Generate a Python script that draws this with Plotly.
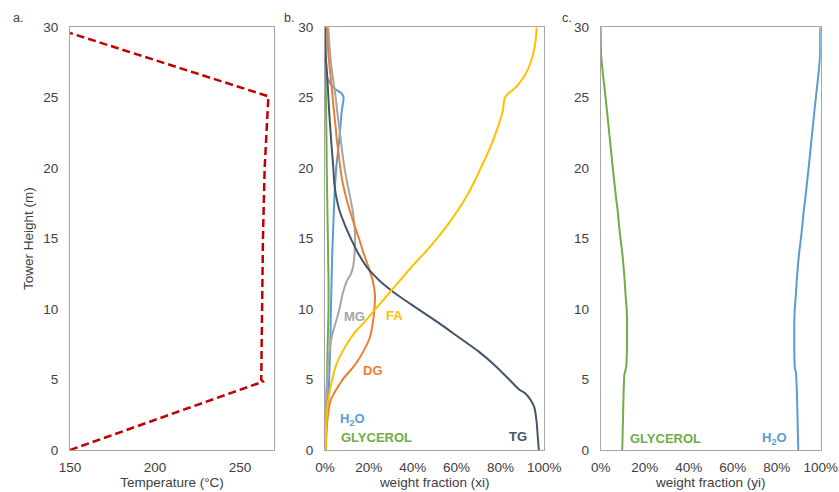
import plotly.graph_objects as go

W, H = 839, 492

# ---------------- Panel a: temperature profile ----------------
temp_height = [0, 4.85, 5, 10, 15, 20, 25.1, 29.6]
temperature = [150, 263.5, 262.5, 263, 263.5, 264.5, 266.7, 150]

# ---------------- Panel b: liquid weight fractions (xi, %) ----------------
tg_h = [0, 1, 2, 3, 3.5, 4, 4.3, 5, 6, 7, 8, 9, 10, 11, 11.5, 12, 12.5, 13, 14, 15, 16, 17, 18, 19, 20, 22, 24, 26, 27, 28, 30]
tg_x = [97.5, 97, 96.5, 95.5, 94, 91.5, 88.5, 84, 77.5, 70, 61, 52, 42.5, 33, 28.8, 25, 21.8, 19, 15, 11.8, 9, 6.6, 5.1, 4.2, 3.8, 2.8, 1.9, 1.2, 0.8, 0.3, 0]

fa_h = [0, 1, 2, 3, 4, 5, 6, 7, 8, 8.5, 9, 10, 11, 12, 13, 14, 15, 16, 17, 18, 19, 20, 21, 22, 23, 24, 25, 25.3, 25.6, 26, 27, 28, 29, 30]
fa_x = [0.2, 0.4, 0.6, 1.1, 2.0, 3.3, 5.0, 8.0, 12.0, 14.4, 17.5, 23.0, 28.5, 34.0, 39.5, 45.5, 51.0, 56.0, 60.5, 64.5, 68.0, 71.0, 74.0, 76.7, 79.0, 81.0, 82.0, 83.5, 86.0, 88.5, 92.5, 94.7, 96.0, 96.5]

dg_h = [0, 1, 2, 3, 3.5, 4, 4.7, 5, 6, 7, 8, 9, 10, 11, 12, 13, 14, 15, 16, 17, 18, 19, 20, 21, 22, 23, 24, 25, 26, 27, 28, 29, 30]
dg_x = [0.4, 0.6, 1.0, 1.8, 2.5, 4.0, 6.8, 8.0, 13.5, 17.5, 20.5, 21.8, 22.5, 22.8, 21.8, 19.8, 17.5, 15.5, 13.3, 11.3, 9.5, 8.0, 7.0, 6.2, 5.4, 4.8, 4.1, 3.5, 2.9, 2.2, 1.6, 1.2, 0.9]

mg_h = [0, 2, 4, 5, 6, 7, 8, 9, 10, 11, 12, 12.5, 13, 14, 15, 16, 17, 18, 19, 20, 21, 22, 23, 24, 25, 26, 27, 28, 29, 30]
mg_x = [0, 0.2, 0.6, 0.9, 1.3, 2.0, 3.0, 4.8, 6.6, 7.9, 10.0, 11.8, 12.8, 13.5, 13.7, 13.4, 12.6, 11.4, 10.1, 8.9, 8.0, 7.2, 6.4, 5.6, 4.9, 4.0, 3.1, 2.4, 1.9, 1.5]

h2o_h = [0, 1, 2, 3, 4, 5, 6, 7, 8, 10, 12, 14, 16, 18, 20, 22, 24, 25, 25.3, 25.7, 26, 26.5, 27, 28, 30]
h2o_x = [0.1, 0.4, 0.8, 1.2, 1.6, 1.9, 2.1, 2.3, 2.5, 2.7, 3.0, 3.3, 3.8, 4.3, 5.1, 6.5, 7.6, 8.5, 7.6, 3.8, 2.5, 0.8, 0.4, 0.2, 0.1]

gly_h = [0, 2, 4, 6, 8, 10, 12, 14, 16, 18, 20, 22, 24, 26, 28, 30]
gly_x = [0, 0.5, 0.8, 1.0, 1.3, 1.6, 1.6, 1.4, 1.2, 1.0, 0.8, 0.7, 0.5, 0.3, 0.1, 0]

# ---------------- Panel c: vapour weight fractions (yi, %) ----------------
vap_h = [0, 2, 4, 5.4, 5.9, 7, 9, 10, 11, 12, 13, 14, 15, 16, 17, 18, 19, 20, 22, 24, 26, 27, 28, 30]
gly_y = [9.8, 10.1, 10.4, 10.8, 11.6, 11.9, 12.0, 11.8, 11.3, 10.9, 10.4, 9.8, 9.0, 8.3, 7.7, 6.9, 6.2, 5.5, 4.2, 2.9, 1.5, 0.8, 0.2, 0]
h2o_y = [89.8, 89.5, 89.2, 88.8, 88.2, 88.0, 88.0, 88.2, 88.7, 89.1, 89.6, 90.2, 91.0, 91.7, 92.3, 93.1, 93.8, 94.5, 95.8, 97.1, 98.5, 99.2, 99.7, 99.8]

y_ticks = [0, 5, 10, 15, 20, 25, 30]
pct_ticks = [0, 20, 40, 60, 80, 100]
pct_labels = ["0%", "20%", "40%", "60%", "80%", "100%"]
temp_ticks = [150, 200, 250]

C_TG, C_FA, C_DG, C_MG, C_H2O, C_GLY = "#44546A", "#FFC000", "#ED7D31", "#A5A5A5", "#5B9BD5", "#70AD47"
FONT = "Liberation Sans, Arial, sans-serif"
TXT = "#404040"
FS = 13.5

fig = go.Figure()

fig.add_trace(go.Scatter(x=temperature, y=temp_height, mode="lines", xaxis="x", yaxis="y",
                         line=dict(color="#C00000", width=2.5, dash="8px,4px"), name="T"))

lw = 2
for xs, hs, c, n, sm in [(gly_x, gly_h, C_GLY, "Glycerol", 0.6), (h2o_x, h2o_h, C_H2O, "H2O", 0.3),
                         (mg_x, mg_h, C_MG, "MG", 0.6), (dg_x, dg_h, C_DG, "DG", 0.6),
                         (tg_x, tg_h, C_TG, "TG", 0.6), (fa_x, fa_h, C_FA, "FA", 0.6)]:
    fig.add_trace(go.Scatter(x=xs, y=hs, mode="lines", xaxis="x2", yaxis="y2",
                             line=dict(color=c, width=lw, shape="spline", smoothing=sm), name=n))

fig.add_trace(go.Scatter(x=gly_y, y=vap_h, mode="lines", xaxis="x3", yaxis="y3",
                         line=dict(color=C_GLY, width=lw, shape="spline", smoothing=0.5), name="Glycerol (v)"))
fig.add_trace(go.Scatter(x=h2o_y, y=vap_h, mode="lines", xaxis="x3", yaxis="y3",
                         line=dict(color=C_H2O, width=lw, shape="spline", smoothing=0.5), name="H2O (v)"))

ydom = [1 - 450 / H, 1 - 27.3 / H]
common = dict(showline=True, linecolor="#A6A6A6", linewidth=1, mirror=True, showgrid=False,
              zeroline=False, ticks="", tickfont=dict(family=FONT, size=FS, color=TXT),
              fixedrange=True, automargin=False)
title_font = dict(family=FONT, size=FS, color=TXT)

fig.update_layout(
    width=W, height=H, margin=dict(l=0, r=0, t=0, b=0),
    paper_bgcolor="white", plot_bgcolor="white", showlegend=False,
    xaxis=dict(domain=[70 / W, 274 / W], range=[150, 270], tickvals=temp_ticks, anchor="y",
               title=dict(text="Temperature (°C)", font=title_font, standoff=3),
               ticklabelstandoff=5, **common),
    yaxis=dict(domain=ydom, range=[0, 30], tickvals=y_ticks, anchor="x",
               title=dict(text="Tower Height (m)", font=title_font, standoff=6),
               ticklabelstandoff=8, **common),
    xaxis2=dict(domain=[325 / W, 544.3 / W], range=[0, 100], tickvals=pct_ticks, ticktext=pct_labels,
                anchor="y2", title=dict(text="weight fraction (xi)", font=title_font, standoff=3),
                ticklabelstandoff=5, **common),
    yaxis2=dict(domain=ydom, range=[0, 30], tickvals=y_ticks, anchor="x2",
                ticklabelstandoff=8, **common),
    xaxis3=dict(domain=[600.7 / W, 820.7 / W], range=[0, 100], tickvals=pct_ticks, ticktext=pct_labels,
                anchor="y3", title=dict(text="weight fraction (yi)", font=title_font, standoff=3),
                ticklabelstandoff=5, **common),
    yaxis3=dict(domain=ydom, range=[0, 30], tickvals=y_ticks, anchor="x3",
                ticklabelstandoff=8, **common),
)

def lab(text, x, y, color, xref, yref, size=13, bold=True):
    fig.add_annotation(text=f"<b>{text}</b>" if bold else text, x=x, y=y, xref=xref, yref=yref,
                       showarrow=False, font=dict(family=FONT, size=size, color=color),
                       xanchor="center", yanchor="middle")

# panel letters
for t, px in [("a.", 17.5), ("b.", 289), ("c.", 567)]:
    fig.add_annotation(text=t, x=px / W, y=1 - 18 / H, xref="paper", yref="paper", showarrow=False,
                       font=dict(family=FONT, size=12.5, color=TXT), xanchor="center", yanchor="middle")

# panel b labels
lab("MG", 13.45, 9.5, C_MG, "x2", "y2")
lab("FA", 31.5, 9.57, C_FA, "x2", "y2")
lab("DG", 21.7, 5.67, C_DG, "x2", "y2")
lab("H<sub>2</sub>O", 12.5, 2.13, C_H2O, "x2", "y2")
lab("GLYCEROL", 23.7, 0.89, C_GLY, "x2", "y2")
lab("TG", 88, 0.99, C_TG, "x2", "y2")
# panel c labels
lab("GLYCEROL", 29.5, 0.85, C_GLY, "x3", "y3")
lab("H<sub>2</sub>O", 78.8, 0.85, C_H2O, "x3", "y3")

fig.write_html("out.html", config={"displayModeBar": False},
               post_script="document.body.style.margin='0';document.body.style.overflow='hidden';")
